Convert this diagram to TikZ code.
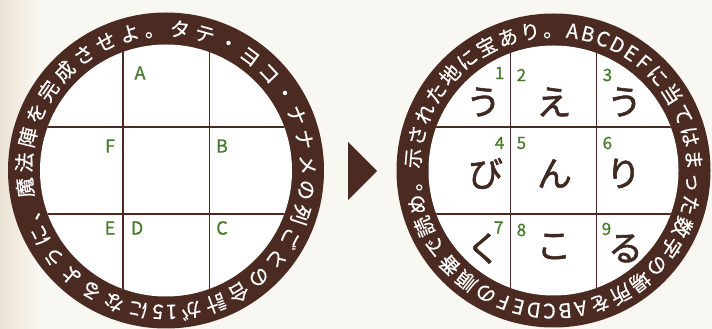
\documentclass[tikz,border=0pt]{standalone}
\usepackage{fontspec}
\newfontfamily\jp{Noto Sans CJK JP}
\newfontfamily\jpr{Noto Sans CJK JP}[FakeBold=0.5]
\newfontfamily\jpm{Noto Sans CJK JP}[FakeBold=1.6]
\newfontfamily\jpl{Noto Sans CJK JP}[FakeBold=0.8]
\usetikzlibrary{calc}
\definecolor{brn}{HTML}{4A2A21}
\definecolor{grn}{HTML}{4A7A30}
\definecolor{bgc}{HTML}{F9F7F2}
\definecolor{bgl}{HTML}{ECE3D4}
\definecolor{ink}{HTML}{3E2A22}
\newcommand{\rc}[1]{\makebox[11pt]{#1}}
\newcommand{\kc}[1]{\makebox[20pt]{#1}}
\tikzset{
  ringtxt/.style={text=white, inner sep=0pt, font=\jpr\fontsize{20}{20}\selectfont, text height=12pt, text depth=0pt},
  gridline/.style={brn, line width=1.6pt},
  lbl/.style={text=grn, inner sep=0pt, font=\jpl\fontsize{18}{18}\selectfont},
  num/.style={text=grn, inner sep=0pt, font=\jpl\fontsize{17}{17}\selectfont},
  kana/.style={text=ink, inner sep=0pt, font=\jpm\fontsize{35}{35}\selectfont},
}
\begin{document}
\begin{tikzpicture}[x=1pt,y=1pt]
\useasboundingbox (0,0) rectangle (712,329);
\fill[bgc] (0,0) rectangle (712,329);
\shade[left color=bgl, right color=bgc] (0,0) rectangle (40,329);
% ---------- left circle ----------
\begin{scope}[shift={(166,158.5)}]
  \fill[brn] (0,0) circle (158);
  \fill[white] (0,0) circle (126);
  \begin{scope}
    \clip (0,0) circle (126);
    \draw[gridline] (-43.3,-130) -- (-43.3,130);
    \draw[gridline] (43.3,-130) -- (43.3,130);
    \draw[gridline] (-130,43.3) -- (130,43.3);
    \draw[gridline] (-130,-43.3) -- (130,-43.3);
  \end{scope}
  \foreach \a/\c [count=\i] in {187/魔,176.74/法,166.48/陣,156.22/を,145.96/完,135.7/成,125.44/さ,115.18/せ,104.92/よ,94.66/。,84.4/タ,74.14/テ,63.88/・,53.62/ヨ,43.36/コ,33.1/・,22.84/ナ,12.58/ナ,2.32/メ,-7.94/の,-18.2/列,-28.46/ご,-38.72/と,-48.98/の,-59.24/合,-69.5/計,-79.76/が,-87.71/1,-93.35/5,-101.3/に,-111.56/な,-121.82/る,-132.08/よ,-142.34/う,-152.6/に,-162.86/、}
    \node[ringtxt, rotate=\a-90] (lt\i) at (\a:140.4) {\rc{\c}};
  \node[lbl] (lA) at (-26,97.5) {A};
  \node[lbl] (lF) at (-56,24.5) {F};
  \node[lbl] (lB) at (56,24.5) {B};
  \node[lbl] (lE) at (-56,-57.5) {E};
  \node[lbl] (lD) at (-29,-57.5) {D};
  \node[lbl] (lC) at (56,-57.5) {C};
\end{scope}
% ---------- arrow ----------
\fill[brn] (348,187) -- (348,129) -- (377,158) -- cycle;
% ---------- right circle ----------
\begin{scope}[shift={(553.5,158.5)}]
  \fill[brn] (0,0) circle (157);
  \fill[white] (0,0) circle (125);
  \begin{scope}
    \clip (0,0) circle (125);
    \draw[gridline] (-43,-130) -- (-43,130);
    \draw[gridline] (43,-130) -- (43,130);
    \draw[gridline] (-130,43.3) -- (130,43.3);
    \draw[gridline] (-130,-43.3) -- (130,-43.3);
  \end{scope}
  \foreach \a/\c [count=\i] in {175/示,165.57/さ,156.14/れ,146.71/た,137.28/地,127.85/に,118.42/宝,108.99/あ,99.56/り,90.13/。,82.21/A,75.8/B,69.39/C,62.98/D,56.57/E,50.16/F,42.24/に,32.81/当,23.38/て,13.95/は,4.52/ま,-4.91/っ,-14.34/た,-23.77/数,-33.2/字,-42.63/の,-52.06/場,-61.49/所,-70.92/を,-78.84/A,-85.25/B,-91.66/C,-98.07/D,-104.48/E,-110.89/F,-118.81/の,-128.24/順,-137.67/番,-147.1/で,-156.53/読,-165.96/め,-175.39/。}
    \node[ringtxt, rotate=\a-90] (rt\i) at (\a:139.4) {\rc{\c}};
  \node[num, anchor=east] (n1) at (-49,97.5) {1};
  \node[num, anchor=west] (n2) at (-37,95.5) {2};
  \node[num, anchor=west] (n3) at (49,95.5) {3};
  \node[num, anchor=east] (n4) at (-49,27.5) {4};
  \node[num, anchor=west] (n5) at (-37,27.5) {5};
  \node[num, anchor=west] (n6) at (49,27.5) {6};
  \node[num, anchor=east] (n7) at (-50,-57) {7};
  \node[num, anchor=west] (n8) at (-37,-59.5) {8};
  \node[num, anchor=west] (n9) at (48,-58.5) {9};
  \node[kana] (k1) at (-70,68.5) {\kc{う}};
  \node[kana] (k2) at (0.5,68.5) {\kc{え}};
  \node[kana] (k3) at (71,68.5) {\kc{う}};
  \node[kana] (k4) at (-68,-3) {\kc{び}};
  \node[kana] (k5) at (1,-3) {\kc{ん}};
  \node[kana] (k6) at (70,-3) {\kc{り}};
  \node[kana] (k7) at (-70,-78) {\kc{く}};
  \node[kana] (k8) at (0.5,-76) {\kc{こ}};
  \node[kana] (k9) at (72,-78) {\kc{る}};
\end{scope}
\end{tikzpicture}
\end{document}
